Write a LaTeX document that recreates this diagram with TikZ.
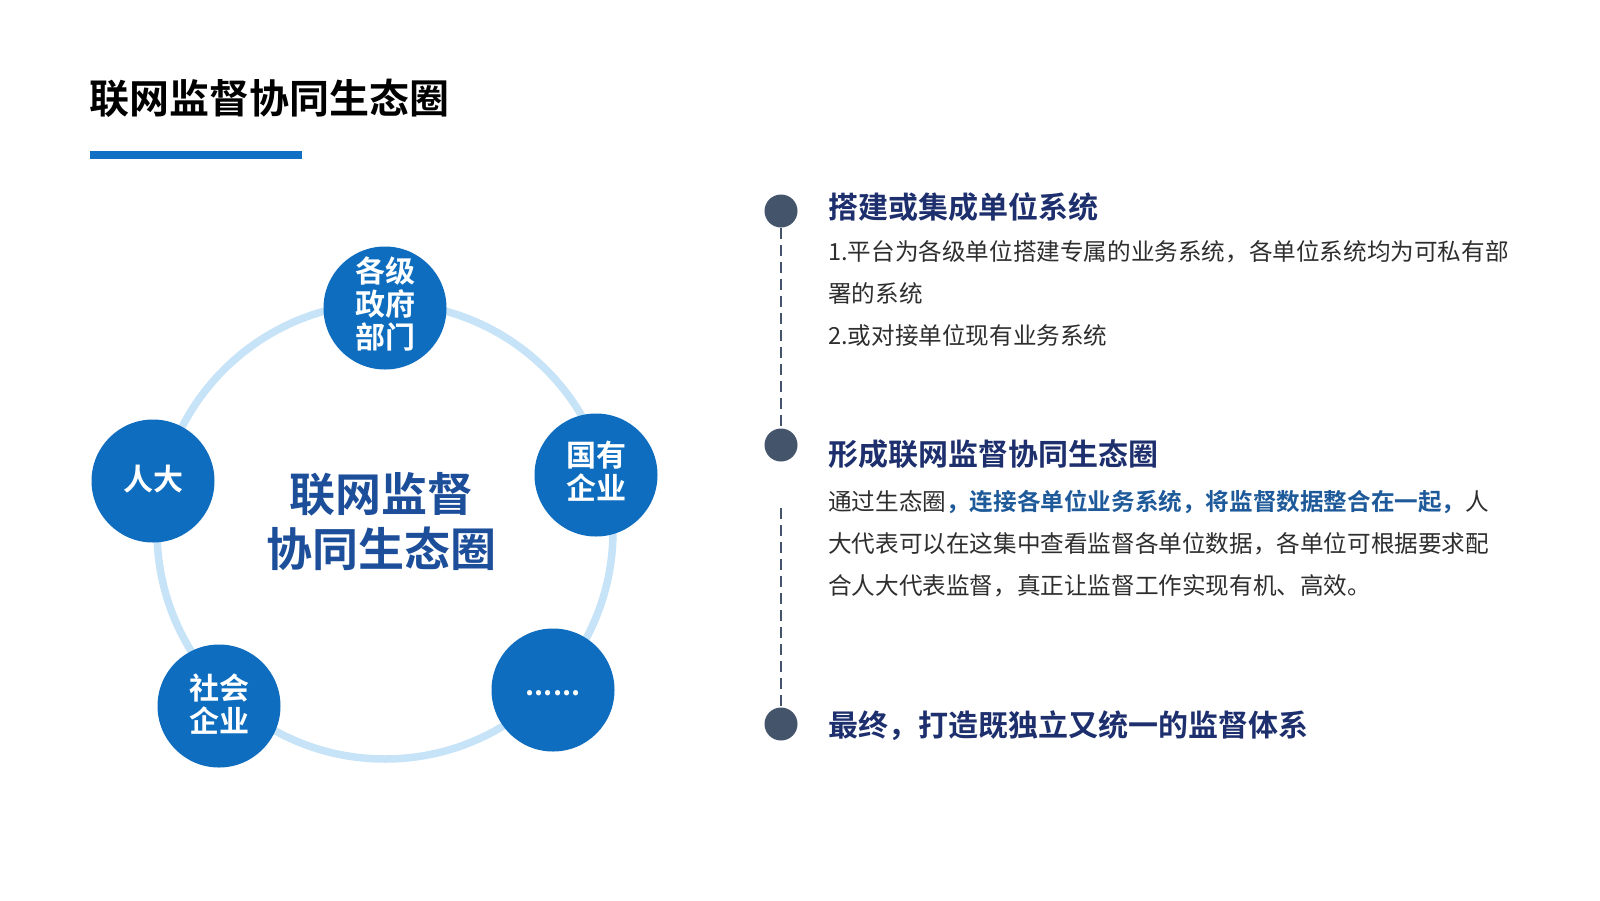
\documentclass[tikz,border=0pt]{standalone}
\usepackage{fontspec}
\setmainfont{Noto Sans CJK SC}
\newfontfamily\cjkb{Noto Sans CJK SC Bold}
\definecolor{nodeblue}{HTML}{0E6DBE}
\definecolor{ringblue}{HTML}{C6E3F8}
\definecolor{centerblue}{HTML}{1C4E9A}
\definecolor{barblue}{HTML}{1170C4}
\definecolor{dotgray}{HTML}{44546A}
\definecolor{headnavy}{HTML}{1E2F6E}
\definecolor{hlblue}{HTML}{1E5A9A}
\definecolor{bodygray}{HTML}{2E2E2E}
\tikzset{
  px/.style={x=1pt,y=-1pt},
  member/.style={circle,fill=nodeblue,minimum size=123pt,inner sep=0pt},
  membertext/.style={inner sep=0pt,text=white,align=center,yshift=4pt,
    font=\cjkb\fontsize{30}{33}\selectfont},
  tdot/.style={circle,fill=dotgray,minimum size=33pt,inner sep=0pt},
  tline/.style={draw=dotgray,line width=2pt,dash pattern=on 11pt off 6pt},
  heading/.style={anchor=west,inner sep=0pt,text=headnavy,font=\cjkb\fontsize{30}{30}\selectfont,
    text height=0.8em,text depth=0.1em},
  bodyline/.style={anchor=west,inner sep=0pt,text=bodygray,font=\fontsize{23.6}{23.6}\selectfont,
    text height=0.8em,text depth=0.1em},
}
\begin{document}
\begin{tikzpicture}[px]
\useasboundingbox (0,0) rectangle (1600,900);
\fill[white] (0,0) rectangle (1600,900);
% title
\node[anchor=west,inner sep=0pt,font=\cjkb\fontsize{40}{40}\selectfont,text height=0.8em,text depth=0.1em] (title) at (89,110) {联网监督协同生态圈};
\fill[barblue] (90,151) rectangle (302,159);
% ring
\draw[ringblue,line width=7.5pt] (385,531) circle (228);
% members
\node[member] (gov) at (385,308) {};
\node[member] (rd) at (153,481) {};
\node[member] (soe) at (596,475) {};
\node[member] (soc) at (219,706) {};
\node[member] (etc) at (553,690) {};
\node[membertext] (govt) at (gov) {各级\\政府\\部门};
\node[membertext,yshift=-2pt] (rdt) at (rd) {人大};
\node[membertext] (soet) at (soe) {国有\\企业};
\node[membertext,yshift=-2pt] (soct) at (soc) {社会\\企业};
\node[inner sep=0pt,text=white,font=\cjkb\fontsize{28}{28}\selectfont,yshift=-3pt] (etct) at (etc) {......};
% center text
\node[align=center,text=centerblue,font=\cjkb\fontsize{46}{55}\selectfont] (center) at (381,522) {联网监督\\协同生态圈};
% timeline
\node[tdot] (d1) at (781,211) {};
\node[tdot] (d2) at (781,445) {};
\node[tdot] (d3) at (781,724) {};
\coordinate (g2) at (781,508);
\draw[tline] (d1.south) -- (d2.north);
\draw[tline] (g2) -- (d3.north);
% section 1
\node[heading] (h1) at (828,215) {搭建或集成单位系统};
\node[bodyline] (b11) at (828,257) {1.平台为各级单位搭建专属的业务系统，各单位系统均为可私有部};
\node[bodyline] (b12) at (828,299) {署的系统};
\node[bodyline] (b13) at (828,341) {2.或对接单位现有业务系统};
% section 2
\node[heading] (h2) at (828,462) {形成联网监督协同生态圈};
\node[bodyline] (b21) at (828,507) {通过生态圈{\cjkb\color{hlblue}，连接各单位业务系统，将监督数据整合在一起，}人};
\node[bodyline] (b22) at (828,549) {大代表可以在这集中查看监督各单位数据，各单位可根据要求配};
\node[bodyline] (b23) at (828,591) {合人大代表监督，真正让监督工作实现有机、高效。};
% section 3
\node[heading] (h3) at (828,733) {最终，打造既独立又统一的监督体系};
\end{tikzpicture}
\end{document}
